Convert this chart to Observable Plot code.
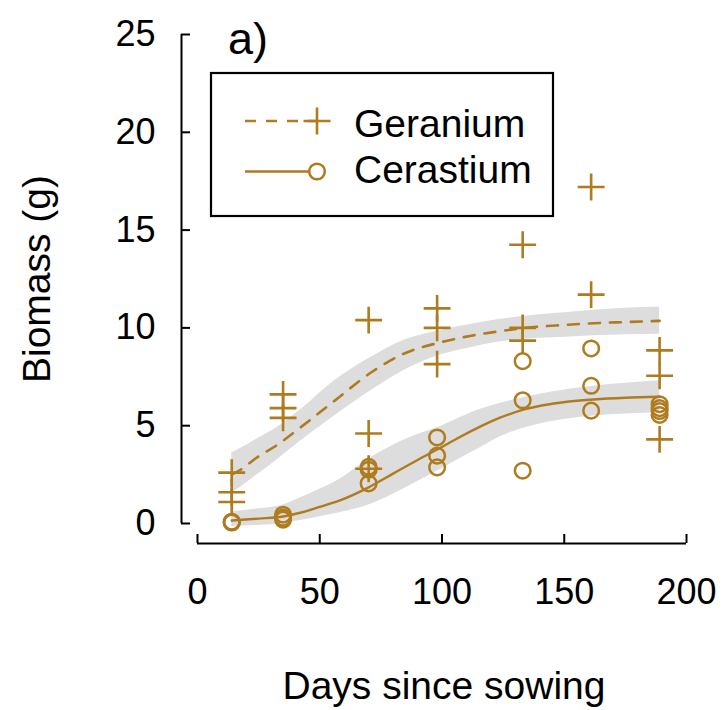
<!DOCTYPE html>
<html>
<head>
<meta charset="utf-8">
<script src="https://cdn.jsdelivr.net/npm/d3@7"></script>
<script src="https://cdn.jsdelivr.net/npm/@observablehq/plot@0.6"></script>
<style>
  html, body { margin: 0; padding: 0; background: #fff; }
  #chart { width: 728px; height: 710px; }
  svg { font-family: "Liberation Sans", Arial, Helvetica, sans-serif; }
</style>
</head>
<body>
<div id="chart"></div>
<script>
// ---- data ----
const seriesNames = ["Geranium", "Cerastium"];
const xTicks = [0, 50, 100, 150, 200];
const yTicks = [0, 5, 10, 15, 20, 25];
const xTitle = "Days since sowing";
const yTitle = "Biomass (g)";
const panelLabel = "a)";

// observed points (day, biomass)
const geraniumDays = [14, 14, 14, 35, 35, 35, 70, 70, 70, 98, 98, 98, 133, 133, 133, 161, 161, 189, 189, 189];
const geraniumMass = [2.6, 1.6, 1.1, 6.6, 5.9, 5.4, 10.4, 4.6, 2.8, 11.0, 10.0, 8.15, 14.25, 10.0, 9.35, 17.2, 11.7, 8.85, 7.55, 4.3];
const cerastiumDays = [14, 14, 14, 35, 35, 35, 70, 70, 70, 98, 98, 98, 133, 133, 133, 161, 161, 161, 189, 189, 189, 189];
const cerastiumMass = [0.05, 0.07, 0.09, 0.45, 0.3, 0.2, 2.9, 2.75, 2.05, 4.4, 3.47, 2.87, 8.3, 6.3, 2.7, 8.95, 7.04, 5.77, 6.1, 5.9, 5.75, 5.55];

// fitted curves with confidence bands
const geraniumFitDays = [14, 17, 24, 33, 42, 56, 71, 84, 99, 112, 122, 134, 150, 162, 175, 189];
const geraniumFit     = [2.5, 2.7, 3.35, 4.05, 4.9, 6.27, 7.72, 8.66, 9.25, 9.6, 9.8, 10.0, 10.15, 10.24, 10.3, 10.36];
const geraniumUpper   = [3.6, 3.8, 4.3, 4.95, 5.8, 7.3, 8.5, 9.34, 9.85, 10.19, 10.4, 10.6, 10.78, 10.9, 11.0, 11.07];
const geraniumLower   = [1.55, 1.8, 2.45, 3.3, 4.2, 5.5, 6.8, 7.8, 8.6, 9.0, 9.25, 9.42, 9.52, 9.6, 9.65, 9.68];

const cerastiumFitDays = [14, 25, 35, 42, 50, 58, 70, 80, 90, 99, 107, 116, 124, 134, 145, 162, 175, 189];
const cerastiumFit     = [0.15, 0.25, 0.36, 0.55, 0.85, 1.17, 1.85, 2.55, 3.25, 3.85, 4.4, 4.98, 5.42, 5.85, 6.12, 6.34, 6.43, 6.48];
const cerastiumUpper   = [0.6, 0.75, 0.95, 1.3, 1.75, 2.25, 3.3, 4.0, 4.55, 4.95, 5.4, 5.85, 6.15, 6.45, 6.72, 7.02, 7.17, 7.3];
const cerastiumLower   = [-0.15, -0.1, 0.0, 0.15, 0.35, 0.55, 0.95, 1.5, 2.15, 2.75, 3.3, 3.9, 4.45, 4.9, 5.22, 5.5, 5.6, 5.68];

// ---- styling ----
const col = "#AE7B1F";
const band = "#dddddd";
const font = "'Liberation Sans', Arial, Helvetica, sans-serif";

// ---- tables ----
const gerPts = geraniumDays.map((d, i) => ({day: d, mass: geraniumMass[i]}));
const cerPts = cerastiumDays.map((d, i) => ({day: d, mass: cerastiumMass[i]}));
const gerFit = geraniumFitDays.map((d, i) => ({day: d, fit: geraniumFit[i], lo: geraniumLower[i], hi: geraniumUpper[i]}));
const cerFit = cerastiumFitDays.map((d, i) => ({day: d, fit: cerastiumFit[i], lo: cerastiumLower[i], hi: cerastiumUpper[i]}));

const xMin = xTicks[0], xMax = xTicks[xTicks.length - 1];
const yMin = yTicks[0], yMax = yTicks[yTicks.length - 1];

const plot = Plot.plot({
  width: 728,
  height: 710,
  marginLeft: 197,
  marginRight: 42,
  marginTop: 34,
  marginBottom: 187,
  x: {domain: [xMin, xMax]},
  y: {domain: [yMin, yMax]},
  style: {fontFamily: font, fontSize: "36px", color: "black", background: "white"},
  marks: [
    Plot.areaY(gerFit, {x: "day", y1: "lo", y2: "hi", fill: band, curve: "monotone-x"}),
    Plot.areaY(cerFit, {x: "day", y1: "lo", y2: "hi", fill: band, curve: "monotone-x"}),
    Plot.line(gerFit, {x: "day", y: "fit", stroke: col, strokeWidth: 2.6, strokeDasharray: "11,10", curve: "monotone-x"}),
    Plot.line(cerFit, {x: "day", y: "fit", stroke: col, strokeWidth: 2.4, curve: "monotone-x"}),
    Plot.dot(gerPts, {x: "day", y: "mass", symbol: "plus", r: 8.7, stroke: col, strokeWidth: 2.6}),
    Plot.dot(cerPts, {x: "day", y: "mass", symbol: "circle", r: 7.8, stroke: col, strokeWidth: 2.5, fill: "none"}),
    // axes (detached, inward ticks)
    Plot.ruleX([xMin], {y1: () => yMin, y2: () => yMax, dx: -16, stroke: "black", strokeWidth: 2}),
    Plot.ruleY([yMin], {x1: () => xMin, x2: () => xMax, dy: 20, stroke: "black", strokeWidth: 2}),
    Plot.axisY(yTicks, {anchor: "left", tickSize: -9, dx: -16, tickPadding: 35, strokeWidth: 2, fontSize: 36, label: null}),
    Plot.axisX(xTicks, {anchor: "bottom", tickSize: -9, dy: 20, tickPadding: 44, strokeWidth: 2, fontSize: 36, label: null}),
    Plot.text([xTitle], {text: d => d, frameAnchor: "bottom", textAnchor: "middle", dx: 2, dy: 163, fontSize: 39, lineAnchor: "middle"}),
    Plot.text([yTitle], {text: d => d, frameAnchor: "left", textAnchor: "middle", rotate: -90, dx: -160, dy: 0, fontSize: 39, lineAnchor: "middle"})
  ]
});

document.getElementById("chart").appendChild(plot);

// ---- annotations: panel label and legend ----
const svg = d3.select(plot);
svg.append("text").attr("x", 228).attr("y", 54).attr("font-size", 45).attr("font-family", font)
  .attr("text-anchor", "start").attr("fill", "black").text(panelLabel);

const lg = svg.append("g").attr("text-anchor", "start");
lg.append("rect").attr("x", 211).attr("y", 73).attr("width", 342).attr("height", 143)
  .attr("fill", "white").attr("stroke", "black").attr("stroke-width", 2.2);
const rows = [
  {name: seriesNames[0], y: 121, base: 136.5, dash: "11,10", sym: "plus"},
  {name: seriesNames[1], y: 171.5, base: 183, dash: null, sym: "circle"}
];
rows.forEach(r => {
  lg.append("line").attr("x1", 245).attr("x2", r.sym === "plus" ? 317 : 309).attr("y1", r.y).attr("y2", r.y)
    .attr("stroke", col).attr("stroke-width", 2.5).attr("stroke-dasharray", r.dash);
  if (r.sym === "plus") {
    lg.append("path").attr("d", `M${317-13.5},${r.y}H${317+13.5}M317,${r.y-13.5}V${r.y+13.5}`)
      .attr("stroke", col).attr("stroke-width", 2.6).attr("fill", "none");
  } else {
    lg.append("circle").attr("cx", 317).attr("cy", r.y).attr("r", 7.8)
      .attr("stroke", col).attr("stroke-width", 2.5).attr("fill", "none");
  }
  lg.append("text").attr("x", 354).attr("y", r.base).attr("font-size", 39).attr("font-family", font)
    .attr("text-anchor", "start").attr("fill", "black").text(r.name);
});
</script>
</body>
</html>
